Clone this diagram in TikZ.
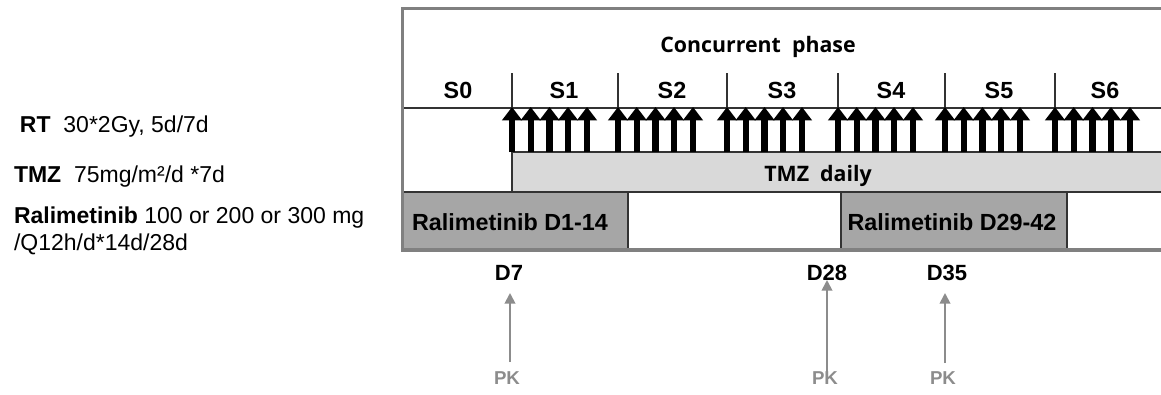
\documentclass[tikz,border=0pt]{standalone}
\usepackage{fontspec}
\setmainfont{Liberation Sans}
\newfontfamily\headfont{Open Sans}
\usetikzlibrary{arrows.meta}
\definecolor{framegrey}{HTML}{808080}
\definecolor{tmzfill}{HTML}{D9D9D9}
\definecolor{ralfill}{HTML}{A6A6A6}
\definecolor{pkgrey}{HTML}{8C8C8C}
\newcommand\pxfont[1]{\fontsize{#1}{#1}\selectfont}
\begin{document}
\begin{tikzpicture}[x=0.75pt,y=-0.75pt,
  every node/.style={inner sep=0pt, outer sep=0pt},
  lefttext/.style={anchor=base west, font=\pxfont{17.25pt}},
  celltext/.style={anchor=base, font=\pxfont{17.5pt}\bfseries},
  headtext/.style={anchor=base, font=\headfont\pxfont{16pt}\bfseries},
  daytext/.style={anchor=base, font=\pxfont{16.5pt}\bfseries},
  pktext/.style={anchor=base, text=pkgrey, font=\pxfont{14pt}\bfseries},
  frameline/.style={draw=framegrey, line width=2.6pt},
  thinline/.style={draw=black!80, line width=0.8pt},
  rtarrow/.style={draw=black, line width=4.6pt, -{Triangle[width=14.5pt,length=10pt]}},
  pkarrow/.style={draw=pkgrey, line width=1.4pt, -{Triangle[width=8pt,length=8pt]}}
]
\useasboundingbox (0,0) rectangle (1161,394);
\begin{scope}
\clip (0,0) rectangle (1161,394);
% bars
\fill[tmzfill] (512,152) rectangle (1170,192);
\fill[ralfill] (402,192) rectangle (628,250);
\fill[ralfill] (841,192) rectangle (1067,250);
% inner lines
\draw[thinline] (402,108) -- (1170,108);
\draw[thinline] (512,152) -- (1170,152);
\draw[thinline] (402,192) -- (1170,192);
\draw[thinline] (512,73) -- (512,192);
\foreach \xs in {618,727,838,945,1055} \draw[thinline] (\xs,73) -- (\xs,110);
\draw[thinline] (628,192) -- (628,250);
\draw[thinline] (841,192) -- (841,250);
\draw[thinline] (1067,192) -- (1067,250);
% RT arrows
\foreach \xs in {512,618,727,838,945,1055}
  \foreach \dx in {0,18.7,37.5,56,75}
    \draw[rtarrow] (\xs+\dx,152) -- (\xs+\dx,107);
% frame
\draw[frameline] (1170,8.5) -- (402.5,8.5) -- (402.5,250) -- (1170,250);
\end{scope}
% texts in chart
\node[headtext] (conc) at (758,52) {Concurrent\ \ phase};
\node[celltext] (s0) at (458,98) {S0};
\node[celltext] (s1) at (564,98) {S1};
\node[celltext] (s2) at (672,98) {S2};
\node[celltext] (s3) at (782,98) {S3};
\node[celltext] (s4) at (891,98) {S4};
\node[celltext] (s5) at (999,98) {S5};
\node[celltext] (s6) at (1105,98) {S6};
\node[headtext] (tmzd) at (818,181) {TMZ\ \ daily};
\node[celltext] (ral1) at (510,230) {Ralimetinib D1-14};
\node[celltext] (ral2) at (952,230) {Ralimetinib D29-42};
% left legend
\node[lefttext] (rt) at (20,132) {\textbf{RT}\ \ 30*2Gy, 5d/7d};
\node[lefttext] (tmz) at (14,182) {\textbf{TMZ}\ \ 75mg/m²/d *7d};
\node[lefttext] (ral) at (14,223) {\textbf{Ralimetinib} 100 or 200 or 300 mg};
\node[lefttext] (ralb) at (14,250) {/Q12h/d*14d/28d};
% days
\node[daytext] (d7) at (509,280) {D7};
\node[daytext] (d28) at (827,280) {D28};
\node[daytext] (d35) at (947,280) {D35};
\node[pktext] (pk7) at (507,384) {PK};
\node[pktext] (pk28) at (825,384) {PK};
\node[pktext] (pk35) at (943,384) {PK};
\coordinate (a7s) at (510,362);
\coordinate (a7t) at (510,293);
\coordinate (a28s) at (827,372);
\coordinate (a28t) at (827,280);
\coordinate (a35s) at (945,363);
\coordinate (a35t) at (945,293);
\draw[pkarrow] (a7s) -- (a7t);
\draw[pkarrow] (a28s) -- (a28t);
\draw[pkarrow] (a35s) -- (a35t);
\end{tikzpicture}
\end{document}
